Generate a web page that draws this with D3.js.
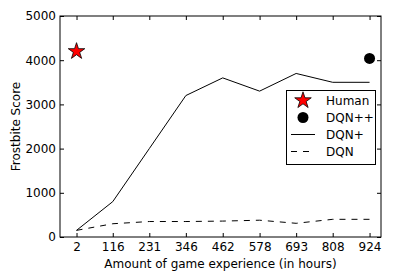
<!DOCTYPE html>
<html>
<head>
<meta charset="utf-8">
<script src="https://d3js.org/d3.v7.min.js"></script>
<style>
body { margin: 0; background: #fff; }
svg { display: block; font-family: "DejaVu Sans", sans-serif; }
</style>
</head>
<body>
<svg id="chart" width="397" height="274"></svg>
<script>
// hours of game experience
var hours = [2, 116, 231, 346, 462, 578, 693, 808, 924];
var dqnPlus = [150, 800, 2000, 3200, 3600, 3300, 3700, 3500, 3500];
var dqn = [150, 300, 350, 350, 360, 380, 310, 400, 400];
var human = [{ x: 2, y: 4200 }];
var dqnPlusPlus = [{ x: 924, y: 4040 }];
var yTicks = [0, 1000, 2000, 3000, 4000, 5000];

var svg = d3.select("#chart");
var pLeft = 60, pRight = 381, pTop = 16, pBottom = 237;

var x = d3.scaleLinear().domain([-50, 960]).range([pLeft, pRight]);
var y = d3.scaleLinear().domain([0, 5000]).range([pBottom, pTop]);

var line = d3.line()
  .x(function(d, i) { return x(hours[i]); })
  .y(function(d) { return y(d); });

svg.append("path")
  .attr("d", line(dqnPlus))
  .attr("fill", "none")
  .attr("stroke", "#000")
  .attr("stroke-width", 1);

svg.append("path")
  .attr("d", line(dqn))
  .attr("fill", "none")
  .attr("stroke", "#000")
  .attr("stroke-width", 1)
  .attr("stroke-dasharray", "6,6");

// frame
svg.append("rect")
  .attr("x", pLeft).attr("y", pTop)
  .attr("width", pRight - pLeft).attr("height", pBottom - pTop)
  .attr("fill", "none").attr("stroke", "#000").attr("stroke-width", 1);

// ticks inward, all four sides
var xb = svg.append("g").attr("transform", "translate(0," + pBottom + ")")
  .call(d3.axisBottom(x).tickValues(hours).tickSize(-4).tickPadding(5).tickFormat(d3.format("d")));
var xt = svg.append("g").attr("transform", "translate(0," + pTop + ")")
  .call(d3.axisTop(x).tickValues(hours).tickSize(-4).tickFormat(""));
var yl = svg.append("g").attr("transform", "translate(" + pLeft + ",0)")
  .call(d3.axisLeft(y).tickValues(yTicks).tickSize(-4).tickPadding(4).tickFormat(d3.format("d")));
var yr = svg.append("g").attr("transform", "translate(" + pRight + ",0)")
  .call(d3.axisRight(y).tickValues(yTicks).tickSize(-4).tickFormat(""));

[xb, xt, yl, yr].forEach(function(g) {
  g.select(".domain").remove();
  g.selectAll("text").attr("font-size", 12).attr("font-family", "DejaVu Sans").attr("fill", "#000");
});

var starPath = d3.symbol().type(d3.symbolStar).size(85);

svg.selectAll(".human").data(human).enter().append("path")
  .attr("d", starPath)
  .attr("transform", function(d) { return "translate(" + x(d.x) + "," + y(d.y) + ")"; })
  .attr("fill", "#ff0000").attr("stroke", "#000").attr("stroke-width", 0.8);

svg.selectAll(".dqnpp").data(dqnPlusPlus).enter().append("circle")
  .attr("cx", function(d) { return x(d.x); })
  .attr("cy", function(d) { return y(d.y); })
  .attr("r", 5.5).attr("fill", "#000");

// labels
svg.append("text")
  .attr("x", (pLeft + pRight) / 2).attr("y", 268)
  .attr("text-anchor", "middle").attr("font-size", 12)
  .text("Amount of game experience (in hours)");

svg.append("text")
  .attr("transform", "translate(20," + ((pTop + pBottom) / 2) + ") rotate(-90)")
  .attr("text-anchor", "middle").attr("font-size", 12)
  .text("Frostbite Score");

// legend
var legend = svg.append("g");
legend.append("rect")
  .attr("x", 286.5).attr("y", 90.5).attr("width", 89).attr("height", 74)
  .attr("fill", "#fff").attr("stroke", "#000").attr("stroke-width", 1);

var items = ["Human", "DQN++", "DQN+", "DQN"];
var ly = [100.5, 117.5, 134.5, 151.5];
items.forEach(function(name, i) {
  legend.append("text")
    .attr("x", 326).attr("y", ly[i]).attr("dy", "0.35em")
    .attr("font-size", 12).text(name);
});
legend.append("path").attr("d", starPath)
  .attr("transform", "translate(303," + ly[0] + ")")
  .attr("fill", "#ff0000").attr("stroke", "#000").attr("stroke-width", 0.8);
legend.append("circle").attr("cx", 303).attr("cy", ly[1]).attr("r", 5.5).attr("fill", "#000");
legend.append("line").attr("x1", 291).attr("x2", 315).attr("y1", ly[2]).attr("y2", ly[2])
  .attr("stroke", "#000");
legend.append("line").attr("x1", 291).attr("x2", 315).attr("y1", ly[3]).attr("y2", ly[3])
  .attr("stroke", "#000").attr("stroke-dasharray", "6,6");
</script>
</body>
</html>
